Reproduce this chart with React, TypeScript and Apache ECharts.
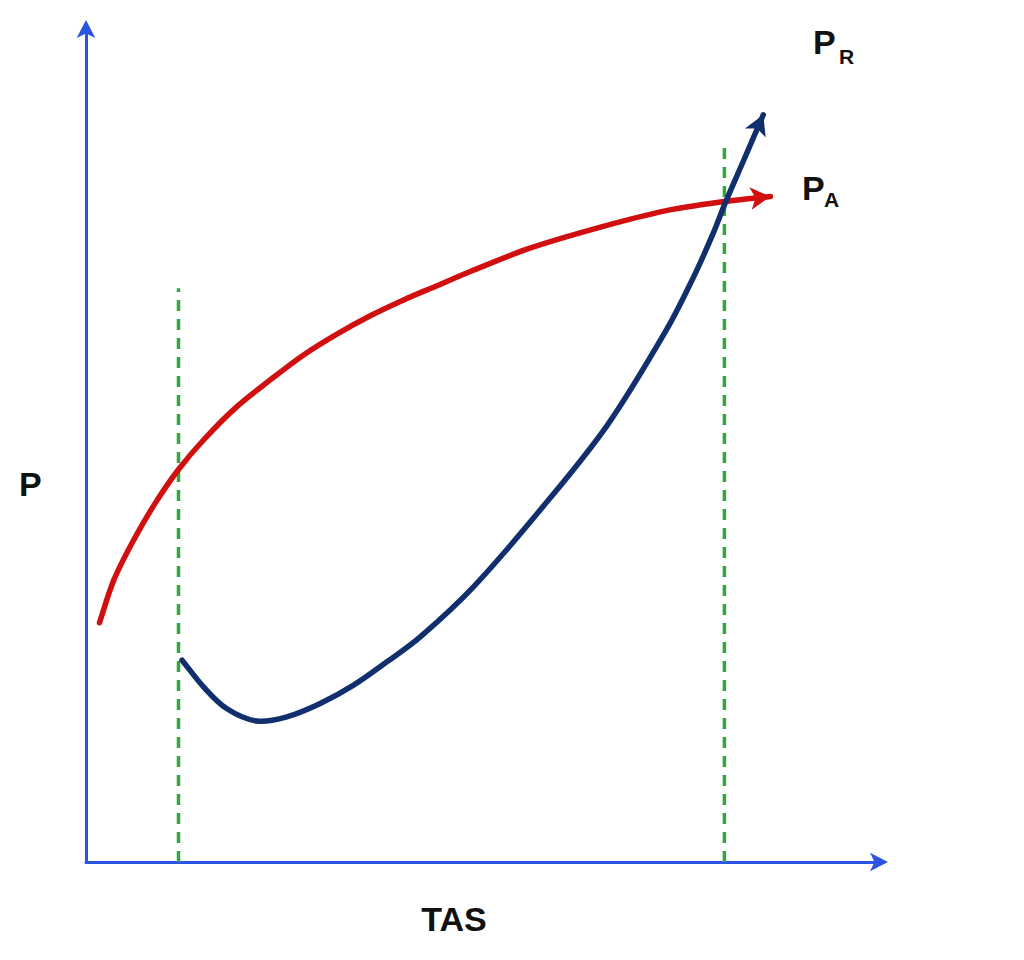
import React, { useEffect, useRef } from "react";
import * as echarts from "echarts";

// Power available (P_A) curve: [TAS, P]
const powerAvailable: [number, number][] = [
  [1.7, 28.7], [3.5, 33.8], [6.0, 38.6], [8.7, 43.0], [11.6, 47.0],
  [14.8, 50.6], [19.0, 54.6], [23.2, 57.8], [27.4, 60.8], [31.6, 63.3],
  [35.8, 65.5], [40.0, 67.4], [44.2, 69.1], [48.4, 70.8], [55.9, 73.6],
  [64.7, 76.1], [73.1, 78.1], [80.5, 79.2], [86.2, 79.8],
];

// Power required (P_R) curve: [TAS, P]
const powerRequired: [number, number][] = [
  [12.1, 24.2], [14.8, 21.0], [17.7, 18.4], [21.5, 16.9], [25.3, 17.4],
  [29.5, 19.0], [33.7, 21.2], [37.9, 24.0], [42.1, 27.0], [48.8, 33.0],
  [57.2, 42.2], [65.6, 52.3], [73.1, 63.8], [76.5, 70.1], [79.0, 75.4],
  [80.5, 79.0], [83.0, 84.5], [85.3, 89.6],
];

// Vertical dashed limits: [TAS, top P]
const minSpeedLine: [number, number][] = [[11.65, 0], [11.65, 68.8]];
const maxSpeedLine: [number, number][] = [[80.4, 0], [80.4, 85.6]];

const AXIS_BLUE = "#2b53e4";
const RED = "#d10f0f";
const NAVY = "#112f6c";
const GREEN = "#33a73c";

// Smooth path through the points (pixel coords), tangents scaled by chord lengths
function smoothPath(pts: number[][]): string {
  const n = pts.length;
  const dist = (a: number[], b: number[]) => Math.hypot(b[0] - a[0], b[1] - a[1]);
  const tangents = pts.map((p, i) => {
    const prev = pts[Math.max(0, i - 1)];
    const next = pts[Math.min(n - 1, i + 1)];
    const d = dist(prev, p) + dist(p, next) || 1;
    return [(next[0] - prev[0]) / d, (next[1] - prev[1]) / d];
  });
  let d = `M${pts[0][0]},${pts[0][1]}`;
  for (let i = 0; i < n - 1; i++) {
    const a = pts[i];
    const b = pts[i + 1];
    const len = dist(a, b) / 3;
    const c1 = [a[0] + tangents[i][0] * len, a[1] + tangents[i][1] * len];
    const c2 = [b[0] - tangents[i + 1][0] * len, b[1] - tangents[i + 1][1] * len];
    d += ` C${c1[0]},${c1[1]} ${c2[0]},${c2[1]} ${b[0]},${b[1]}`;
  }
  return d;
}

function curveSeries(points: [number, number][], color: string, z: number) {
  return {
    type: "custom",
    coordinateSystem: "cartesian2d",
    data: points,
    encode: { x: 0, y: 1 },
    z,
    renderItem: (params: any, api: any) => {
      if (params.dataIndex !== 0) return null;
      const px = points.map((p) => api.coord(p));
      return {
        type: "path",
        shape: { pathData: smoothPath(px) },
        style: { fill: "none", stroke: color, lineWidth: 5.5, lineCap: "round" },
      };
    },
  };
}

function arrowSeries(points: [number, number][], rotate: number, color: string, z: number) {
  return {
    type: "scatter",
    data: [points[points.length - 1]],
    symbol: "arrow",
    symbolSize: [17, 20],
    symbolRotate: rotate,
    itemStyle: { color, opacity: 1 },
    z,
  };
}

export default function App() {
  const ref = useRef<HTMLDivElement>(null);
  useEffect(() => {
    if (!ref.current) return;
    const chart = echarts.init(ref.current, undefined, { renderer: "svg" });
    const font = "bold 34px 'Liberation Sans', Arial, sans-serif";
    const subFont = "bold 21px 'Liberation Sans', Arial, sans-serif";
    const axisLine = {
      show: true,
      symbol: ["none", "arrow"],
      symbolSize: [14, 18],
      symbolOffset: [0, 8],
      lineStyle: { color: AXIS_BLUE, width: 3 },
    };
    chart.setOption({
      animation: false,
      backgroundColor: "#ffffff",
      grid: { left: 86, right: 144, top: 28, bottom: 98 },
      xAxis: {
        type: "value",
        min: 0,
        max: 100,
        axisLine,
        axisTick: { show: false },
        axisLabel: { show: false },
        splitLine: { show: false },
      },
      yAxis: {
        type: "value",
        min: 0,
        max: 100,
        axisLine,
        axisTick: { show: false },
        axisLabel: { show: false },
        splitLine: { show: false },
      },
      series: [
        {
          type: "line",
          data: minSpeedLine,
          symbol: "none",
          lineStyle: { color: GREEN, width: 3.5, type: [11, 8] },
          z: 1,
        },
        {
          type: "line",
          data: maxSpeedLine,
          symbol: "none",
          lineStyle: { color: GREEN, width: 3.5, type: [11, 8] },
          z: 1,
        },
        curveSeries(powerAvailable, RED, 3),
        arrowSeries(powerAvailable, -84, RED, 3),
        curveSeries(powerRequired, NAVY, 4),
        arrowSeries(powerRequired, -23.5, NAVY, 4),
      ],
      graphic: [
        {
          type: "text",
          style: { text: "P", x: 19, y: 484, font, fill: "#111", textAlign: "left", textVerticalAlign: "middle" },
        },
        {
          type: "text",
          style: { text: "TAS", x: 454, y: 919, font, fill: "#111", textAlign: "center", textVerticalAlign: "middle" },
        },
        {
          type: "text",
          style: { text: "P", x: 813, y: 42, font, fill: "#111", textAlign: "left", textVerticalAlign: "middle" },
        },
        {
          type: "text",
          style: { text: "R", x: 839, y: 56, font: subFont, fill: "#111", textAlign: "left", textVerticalAlign: "middle" },
        },
        {
          type: "text",
          style: { text: "P", x: 802, y: 188, font, fill: "#111", textAlign: "left", textVerticalAlign: "middle" },
        },
        {
          type: "text",
          style: { text: "A", x: 824, y: 199, font: subFont, fill: "#111", textAlign: "left", textVerticalAlign: "middle" },
        },
      ],
    });
    return () => chart.dispose();
  }, []);
  return (
    <div
      ref={ref}
      style={{ position: "absolute", left: 0, top: 0, width: 1024, height: 960 }}
    />
  );
}
